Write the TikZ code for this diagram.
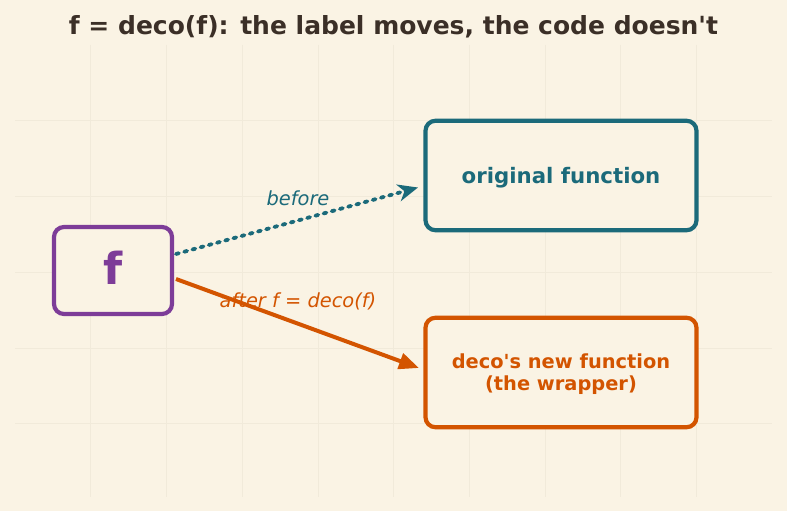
\documentclass[tikz,border=0pt]{standalone}
\usepackage{fontspec}
\setmainfont{DejaVu Sans}
\usetikzlibrary{arrows.meta}
\definecolor{bg}{HTML}{FAF3E4}
\definecolor{gridc}{HTML}{F1EADA}
\definecolor{titlec}{HTML}{3B2F27}
\definecolor{purp}{HTML}{7D3C98}
\definecolor{teal}{HTML}{1B6A7A}
\definecolor{orng}{HTML}{D35400}
\begin{document}
\begin{tikzpicture}[x=1pt,y=-1pt,
  box/.style={draw, line width=4.2pt, rounded corners=10pt, fill=bg, inner sep=0pt, align=center},
  lbl/.style={font=\fontsize{19.4}{22}\selectfont\itshape},
  boxtxt/.style={font=\fontsize{21.3}{24}\selectfont\bfseries, align=center}]
\fill[bg] (0,0) rectangle (787,511);
\useasboundingbox (0,0) rectangle (787,511);
\foreach \i in {1,...,9} \draw[gridc, line width=0.6pt] (15+75.7*\i,45) -- (15+75.7*\i,497);
\foreach \j in {1,...,5} \draw[gridc, line width=0.6pt] (15,45+75.7*\j) -- (772,45+75.7*\j);
\node[font=\fontsize{25}{28}\selectfont\bfseries, text=titlec] (title) at (393.5,27) {f = deco(f): the label moves, the code doesn\textquotesingle t};
\node[box, draw=purp, minimum width=118pt, minimum height=87pt] (f) at (113,270.5) {};
\node[font=\fontsize{44}{48}\selectfont\bfseries, text=purp] (ft) at (113,268) {f};
\node[box, draw=teal, minimum width=271pt, minimum height=109.5pt] (orig) at (561,175.5) {};
\node[boxtxt, text=teal] (origt) at (561,178) {original function};
\node[box, draw=orng, minimum width=271pt, minimum height=109.5pt] (wrap) at (561,372.5) {};
\node[boxtxt, text=orng, font=\fontsize{19.4}{22.5}\selectfont\bfseries] (wrapt) at (561,374) {deco\textquotesingle s new function\\(the wrapper)};
\coordinate (b0) at (176,254);
\coordinate (b1) at (418,187.5);
\coordinate (a0) at (176,279);
\coordinate (a1) at (419,368);
\draw[teal, line width=3.8pt, line cap=round, dash pattern=on 3pt off 5.5pt, -{Stealth[length=20pt,width=17pt,inset=6pt,line cap=round]}] (b0) -- (b1);
\draw[orng, line width=4pt, -{Triangle[length=20pt,width=16pt]}] (a0) -- (a1);
\node[lbl, text=teal] (bl) at (298,198) {before};
\node[lbl, text=orng] (al) at (298,301) {after f = deco(f)};
\end{tikzpicture}
\end{document}
